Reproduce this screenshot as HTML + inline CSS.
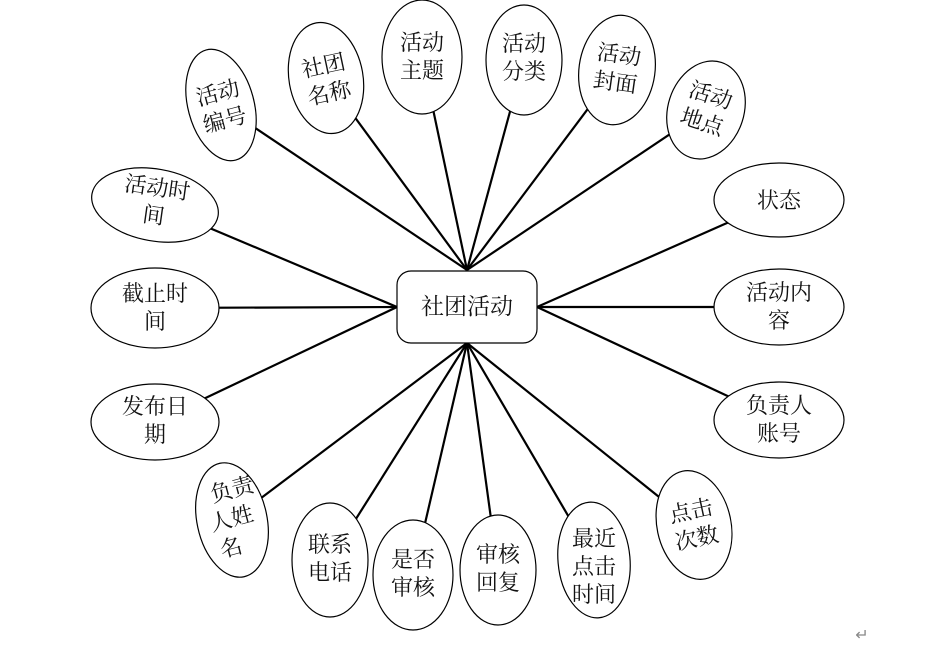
<!DOCTYPE html>
<html><head><meta charset="utf-8"><style>
html,body{margin:0;padding:0;background:#fff;}
svg text{font-family:"Liberation Serif","Noto Serif CJK SC","Noto Sans CJK SC",serif;font-size:22px;fill:#111;text-anchor:middle;}
</style></head><body>
<svg width="942" height="648" viewBox="0 0 942 648" xmlns="http://www.w3.org/2000/svg">
<g stroke="#000" stroke-width="2.2">
<line x1="467" y1="270" x2="221" y2="105"/>
<line x1="467" y1="270" x2="326" y2="78"/>
<line x1="467" y1="270" x2="422" y2="57"/>
<line x1="467" y1="270" x2="524" y2="60"/>
<line x1="467" y1="270" x2="617" y2="70"/>
<line x1="467" y1="270" x2="706" y2="110"/>
<line x1="397" y1="307" x2="155" y2="205"/>
<line x1="397" y1="307" x2="155" y2="308"/>
<line x1="397" y1="307" x2="155" y2="422"/>
<line x1="537" y1="307" x2="779" y2="200"/>
<line x1="537" y1="307" x2="779" y2="307"/>
<line x1="537" y1="307" x2="779" y2="420"/>
<line x1="467" y1="343" x2="232" y2="520"/>
<line x1="467" y1="343" x2="330" y2="560"/>
<line x1="467" y1="343" x2="413" y2="575"/>
<line x1="467" y1="343" x2="498" y2="570"/>
<line x1="467" y1="343" x2="594" y2="560"/>
<line x1="467" y1="343" x2="694" y2="525"/>
</g>
<g fill="#fff" stroke="#000" stroke-width="1.2">
<rect x="397" y="271" width="140" height="72" rx="14"/>
<ellipse cx="221" cy="105" rx="33" ry="57" transform="rotate(-15 221 105)"/>
<ellipse cx="326" cy="78" rx="37" ry="56" transform="rotate(-10 326 78)"/>
<ellipse cx="422" cy="57" rx="40" ry="57"/>
<ellipse cx="524" cy="60" rx="38" ry="55"/>
<ellipse cx="617" cy="70" rx="38" ry="55" transform="rotate(8 617 70)"/>
<ellipse cx="706" cy="110" rx="38" ry="50" transform="rotate(18 706 110)"/>
<ellipse cx="155" cy="205" rx="64" ry="36" transform="rotate(10 155 205)"/>
<ellipse cx="155" cy="308" rx="64" ry="40"/>
<ellipse cx="155" cy="422" rx="64" ry="38"/>
<ellipse cx="779" cy="200" rx="65" ry="37"/>
<ellipse cx="779" cy="307" rx="65" ry="38"/>
<ellipse cx="779" cy="420" rx="65" ry="38"/>
<ellipse cx="232" cy="520" rx="35" ry="58" transform="rotate(-12 232 520)"/>
<ellipse cx="330" cy="560" rx="38" ry="57"/>
<ellipse cx="413" cy="575" rx="40" ry="55"/>
<ellipse cx="498" cy="570" rx="38" ry="55"/>
<ellipse cx="594" cy="560" rx="36" ry="58" transform="rotate(-5 594 560)"/>
<ellipse cx="694" cy="525" rx="37" ry="55" transform="rotate(-12 694 525)"/>
</g>
<text x="467" y="314" style="font-size:23px">社团活动</text>
<g transform="rotate(-15 221 105)"><text x="221" y="100">活动</text><text x="221" y="128">编号</text></g>
<g transform="rotate(-12 326 78)"><text x="326" y="73">社团</text><text x="326" y="101">名称</text></g>
<text x="422" y="50">活动</text><text x="422" y="78">主题</text>
<text x="524" y="51">活动</text><text x="524" y="79">分类</text>
<g transform="rotate(8 617 70)"><text x="617" y="62">活动</text><text x="617" y="90">封面</text></g>
<g transform="rotate(18 706 110)"><text x="706" y="102">活动</text><text x="706" y="130">地点</text></g>
<g transform="rotate(8 155 205)"><text x="155" y="195">活动时</text><text x="155" y="223">间</text></g>
<text x="155" y="301">截止时</text><text x="155" y="329">间</text>
<text x="155" y="414">发布日</text><text x="155" y="442">期</text>
<text x="779" y="208">状态</text>
<text x="779" y="300">活动内</text><text x="779" y="328">容</text>
<text x="779" y="413">负责人</text><text x="779" y="441">账号</text>
<g transform="rotate(-15 232 520)"><text x="240" y="498">负责</text><text x="232" y="526">人姓</text><text x="224" y="554">名</text></g>
<text x="330" y="552">联系</text><text x="330" y="580">电话</text>
<text x="413" y="567">是否</text><text x="413" y="595">审核</text>
<text x="498" y="562">审核</text><text x="498" y="590">回复</text>
<text x="594" y="546">最近</text><text x="594" y="574">点击</text><text x="594" y="602">时间</text>
<g transform="rotate(-12 694 525)"><text x="694" y="518">点击</text><text x="694" y="546">次数</text></g>
<text x="862" y="640" style="font-size:16px;fill:#888">↵</text>
</svg>
</body></html>
